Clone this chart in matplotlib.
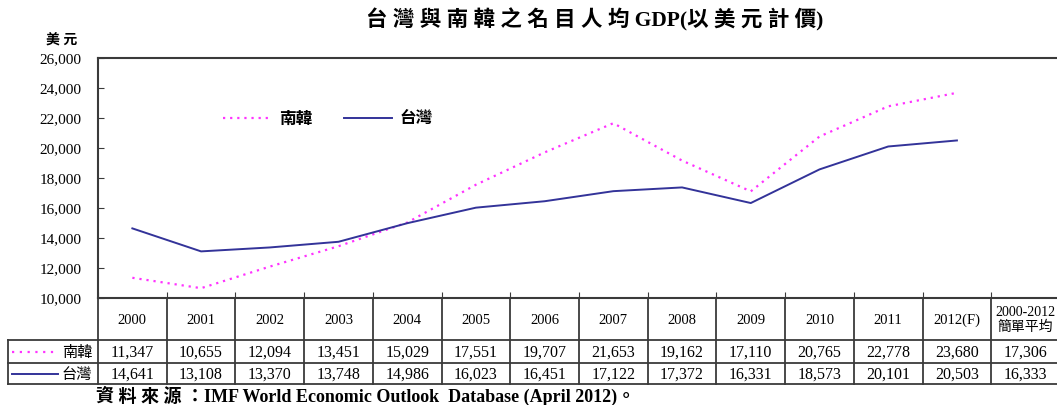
import numpy as np
import matplotlib.pyplot as plt
from matplotlib.lines import Line2D

plt.rcParams['font.family'] = ['Liberation Serif', 'Noto Sans CJK TC']

years = ['2000', '2001', '2002', '2003', '2004', '2005', '2006', '2007',
         '2008', '2009', '2010', '2011', '2012(F)']
korea = [11347, 10655, 12094, 13451, 15029, 17551, 19707, 21653,
         19162, 17110, 20765, 22778, 23680]
taiwan = [14641, 13108, 13370, 13748, 14986, 16023, 16451, 17122,
          17372, 16331, 18573, 20101, 20503]
avg_label = '2000-2012\n簡單平均'
korea_avg = 17306
taiwan_avg = 16333
yticks = np.arange(10000, 26001, 2000)

W, H = 1057, 405
fig = plt.figure(figsize=(W / 100, H / 100), dpi=100)

def fx(px):
    return px / W

def fy(py):
    return 1 - py / H

KC = '#ff33ff'
TC = '#333399'
GRID = '#3a3a3a'

left, right, top, bot = 98, 1060, 58, 298
ncol = len(years) + 1
ax = fig.add_axes([fx(left), fy(bot), fx(right - left), fy(top) - fy(bot)])
x = np.arange(len(years)) + 0.5
ax.plot(x, korea, color=KC, lw=1.6, ls=(0, (1, 2.2)), label='南韓')
ax.plot(x, taiwan, color=TC, lw=1.4, label='台灣')
ax.set_xlim(0, ncol)
ax.set_ylim(10000, 26000)
ax.set_yticks(yticks)
ax.set_yticklabels([f'{v:,}' for v in yticks], fontsize=11)
ax.set_xticks(np.arange(ncol + 1))
ax.set_xticklabels([])
ax.tick_params(axis='both', direction='in', length=4, color=GRID)
ax.tick_params(axis='y', pad=12)
for s in ax.spines.values():
    s.set_color(GRID)
    s.set_linewidth(1.5)
ax.legend(loc='center left', bbox_to_anchor=(0.123, 0.748), ncol=2,
          frameon=False, handlelength=2.9, handletextpad=0.45,
          columnspacing=1.9, borderaxespad=0,
          prop={'family': ['Noto Sans CJK TC'], 'size': 12, 'weight': 'bold'})

fig.text(fx(595), fy(20), '台 灣 與 南 韓 之 名 目 人 均 GDP(以 美 元 計 價)',
         ha='center', va='center', fontsize=15.5, fontweight='bold')
fig.text(fx(62), fy(41), '美 元', ha='center', va='center', fontsize=10,
         fontweight='bold', family=['Liberation Serif', 'Noto Sans CJK TC'])

# table below the chart
tab = fig.add_axes([0, 0, 1, 1])
tab.set_xlim(0, W)
tab.set_ylim(H, 0)
tab.axis('off')
colw = (right - left) / ncol
r0, r1, r2, r3 = bot, 340, 363, 384
lk = dict(color=GRID, lw=1.3)
tab.plot([left, W], [r1, r1], **lk)
tab.plot([8, left], [r1, r1], **lk)
tab.plot([8, W], [r2, r2], **lk)
tab.plot([8, W], [r3, r3], **lk)
tab.plot([8, 8], [r1, r3], **lk)
for i in range(ncol + 1):
    xx = left + i * colw
    tab.plot([xx, xx], [r0, r3], **lk)

heads = years + [avg_label]
krow = [f'{v:,}' for v in korea] + [f'{korea_avg:,}']
trow = [f'{v:,}' for v in taiwan] + [f'{taiwan_avg:,}']
for i in range(ncol):
    cx = left + (i + 0.5) * colw
    if i == ncol - 1:
        tab.text(cx, (r0 + r1) / 2 + 1, heads[i], ha='center', va='center',
                 fontsize=10, linespacing=1.1)
    else:
        tab.text(cx, (r0 + r1) / 2 + 1, heads[i], ha='center', va='center',
                 fontsize=10.5)
    tab.text(cx, (r1 + r2) / 2 + 1, krow[i], ha='center', va='center', fontsize=11.5)
    tab.text(cx, (r2 + r3) / 2 + 1, trow[i], ha='center', va='center', fontsize=11.5)

tab.add_line(Line2D([12, 58], [(r1 + r2) / 2] * 2, color=KC, lw=1.6,
                    ls=(0, (1, 2.5))))
tab.add_line(Line2D([12, 58], [(r2 + r3) / 2] * 2, color=TC, lw=1.4))
tab.text(77, (r1 + r2) / 2 + 1, '南韓', ha='center', va='center', fontsize=11,
         family=['Noto Sans CJK TC'])
tab.text(77, (r2 + r3) / 2 + 1, '台灣', ha='center', va='center', fontsize=11,
         family=['Noto Sans CJK TC'])

fig.text(fx(96), fy(396),
         '資 料 來 源 ：IMF World Economic Outlook  Database (April 2012)。',
         ha='left', va='center', fontsize=13, fontweight='bold')

fig.savefig('out.png', dpi=100)
